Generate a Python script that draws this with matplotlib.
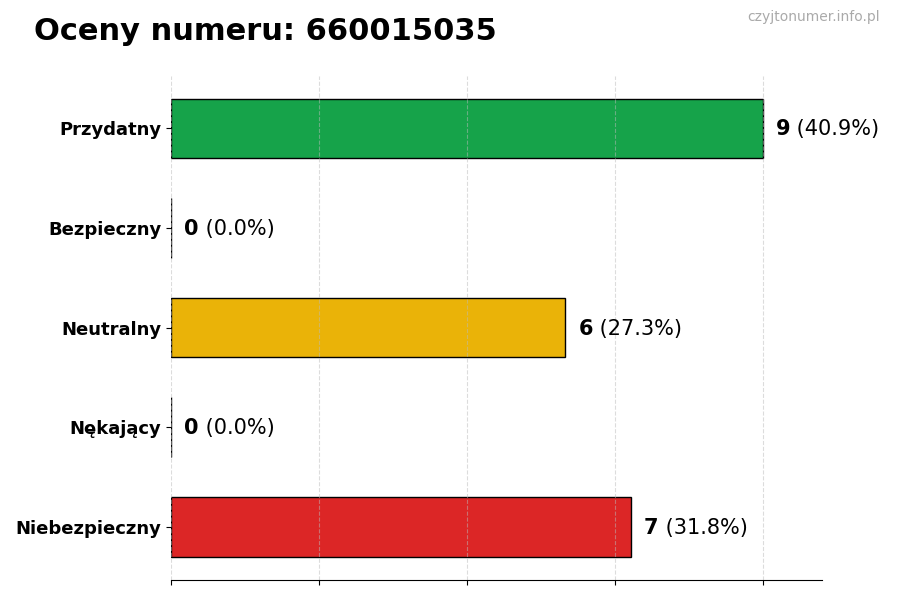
import numpy as np
import matplotlib
matplotlib.use("Agg")
import matplotlib.pyplot as plt

# dane z wykresu
categories = ["Przydatny", "Bezpieczny", "Neutralny", "Nękający", "Niebezpieczny"]
counts = [9, 0, 6, 0, 7]
colors = ["#16a34a", "#94a3b8", "#eab308", "#f97316", "#dc2626"]
title = "Oceny numeru: 660015035"
watermark = "czyjtonumer.info.pl"

total = sum(counts)
max_val = max(counts)

fig = plt.figure(figsize=(9, 6), dpi=100)
ax = fig.add_axes([0.19, 0.034, 0.723, 0.84])

y = np.arange(len(categories))
ax.barh(y, counts, height=0.6, color=colors, edgecolor="black", linewidth=1)
ax.invert_yaxis()

ax.set_xlim(0, max_val * 1.1)
ax.set_xticks(np.linspace(0, max_val, 5))
ax.set_xticklabels([])
ax.set_yticks(y)
ax.set_yticklabels(categories, fontsize=13, fontweight="bold")
ax.grid(axis="x", linestyle="--", alpha=0.5, color="#bbbbbb")

for s in ["top", "right", "left"]:
    ax.spines[s].set_visible(False)

# etykiety: liczba pogrubiona + procent
for yi, c in zip(y, counts):
    pct = c / total * 100 if total else 0
    t1 = ax.text(c + max_val * 0.022, yi + 0.01, str(c), fontsize=15, fontweight="bold",
                 va="center", ha="left")
    ax.annotate(f" ({pct:.1f}%)", xy=(1, 0.5), xycoords=t1, fontsize=15,
                va="center", ha="left")

fig.text(0.038, 0.948, title, fontsize=22, fontweight="bold", ha="left", va="center")
fig.text(0.978, 0.971, watermark, fontsize=10, color="#aaaaaa", ha="right", va="center")

fig.savefig("out.png", dpi=100)
